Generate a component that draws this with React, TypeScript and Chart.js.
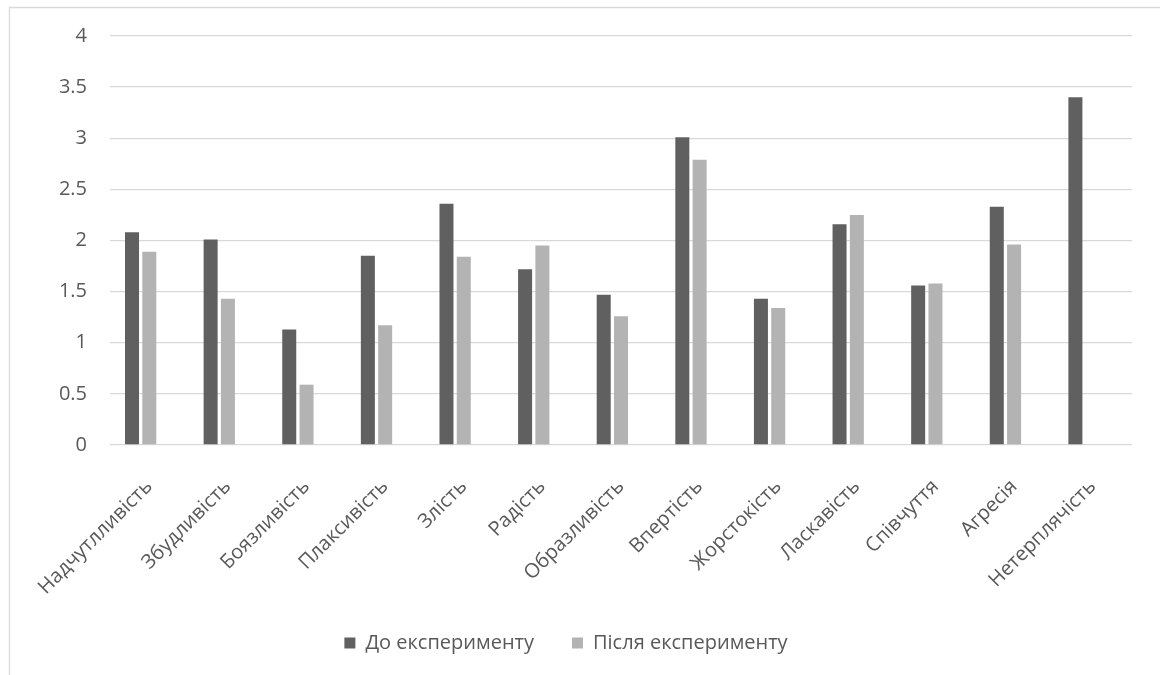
import { useEffect, useRef } from "react";
import { Chart, registerables } from "chart.js";

Chart.register(...registerables);

// Emotional traits measured before and after the experiment
const categories = [
  "Надчутлливість",
  "Збудливість",
  "Боязливість",
  "Плаксивість",
  "Злість",
  "Радість",
  "Образливість",
  "Впертість",
  "Жорстокість",
  "Ласкавість",
  "Співчуття",
  "Агресія",
  "Нетерплячість",
];

const seriesLabels = ["До експерименту", "Після експерименту"];

const beforeValues = [2.08, 2.01, 1.13, 1.85, 2.36, 1.72, 1.47, 3.01, 1.43, 2.16, 1.56, 2.33, 3.4];
const afterValues: (number | null)[] = [1.89, 1.43, 0.59, 1.17, 1.84, 1.95, 1.26, 2.79, 1.34, 2.25, 1.58, 1.96, null];
// Third, empty series slot: keeps the cluster layout of the workbook's chart
const emptySlot: (number | null)[] = [null, null, null, null, null, null, null, null, null, null, null, null, null];

const yMin = 0;
const yMax = 4;
const yStep = 0.5;

const FONT = "'Open Sans', sans-serif";
const TEXT = "#595959";

const framePlugin = {
  id: "frame",
  beforeDraw(chart: Chart) {
    const { ctx, width, height } = chart;
    ctx.save();
    ctx.fillStyle = "#ffffff";
    ctx.fillRect(0, 0, width, height);
    ctx.strokeStyle = "#d9d9d9";
    ctx.lineWidth = 1.3;
    ctx.beginPath();
    ctx.moveTo(9.5, height);
    ctx.lineTo(9.5, 7.5);
    ctx.lineTo(width, 7.5);
    ctx.stroke();
    ctx.restore();
  },
};

export default function App() {
  const ref = useRef<HTMLCanvasElement | null>(null);

  useEffect(() => {
    if (!ref.current) return;
    const chart = new Chart(ref.current, {
      type: "bar",
      data: {
        labels: categories,
        datasets: [
          {
            label: seriesLabels[0],
            data: beforeValues,
            backgroundColor: "#606060",
            borderWidth: 0,
            categoryPercentage: 0.66,
            barPercentage: 0.81,
          },
          {
            label: seriesLabels[1],
            data: afterValues,
            backgroundColor: "#b3b3b3",
            borderWidth: 0,
            categoryPercentage: 0.66,
            barPercentage: 0.81,
          },
          {
            label: "",
            data: emptySlot,
            backgroundColor: "transparent",
            categoryPercentage: 0.66,
            barPercentage: 0.81,
          },
        ],
      },
      options: {
        animation: false,
        responsive: false,
        maintainAspectRatio: false,
        layout: { padding: { left: 0, right: 28, top: 36, bottom: 12 } },
        plugins: {
          tooltip: { enabled: false },
          legend: {
            position: "bottom",
            labels: {
              filter: (item) => item.text !== "",
              boxWidth: 11,
              boxHeight: 11,
              padding: 38,
              color: TEXT,
              font: { family: FONT, size: 20 },
            },
          },
        },
        scales: {
          x: {
            grid: { display: false },
            border: { display: false },
            ticks: {
              autoSkip: false,
              maxRotation: 45,
              minRotation: 45,
              padding: 22,
              color: TEXT,
              font: { family: FONT, size: 20 },
            },
            afterFit: (scale: any) => {
              scale.height = 150;
            },
          },
          y: {
            min: yMin,
            max: yMax,
            border: { display: false },
            grid: { color: "#d9d9d9", lineWidth: 1.3, drawTicks: false },
            ticks: {
              stepSize: yStep,
              padding: 23,
              color: TEXT,
              font: { family: FONT, size: 20 },
              callback: (value: any) => String(Number(value)),
            },
            afterFit: (scale: any) => {
              scale.width = 110;
            },
          },
        },
      },
      plugins: [framePlugin],
    });
    return () => chart.destroy();
  }, []);

  return (
    <div style={{ position: "fixed", left: 0, top: 0, width: 1160, height: 675, background: "#fff" }}>
      <canvas ref={ref} width={1160} height={675} style={{ width: 1160, height: 675 }} />
    </div>
  );
}
